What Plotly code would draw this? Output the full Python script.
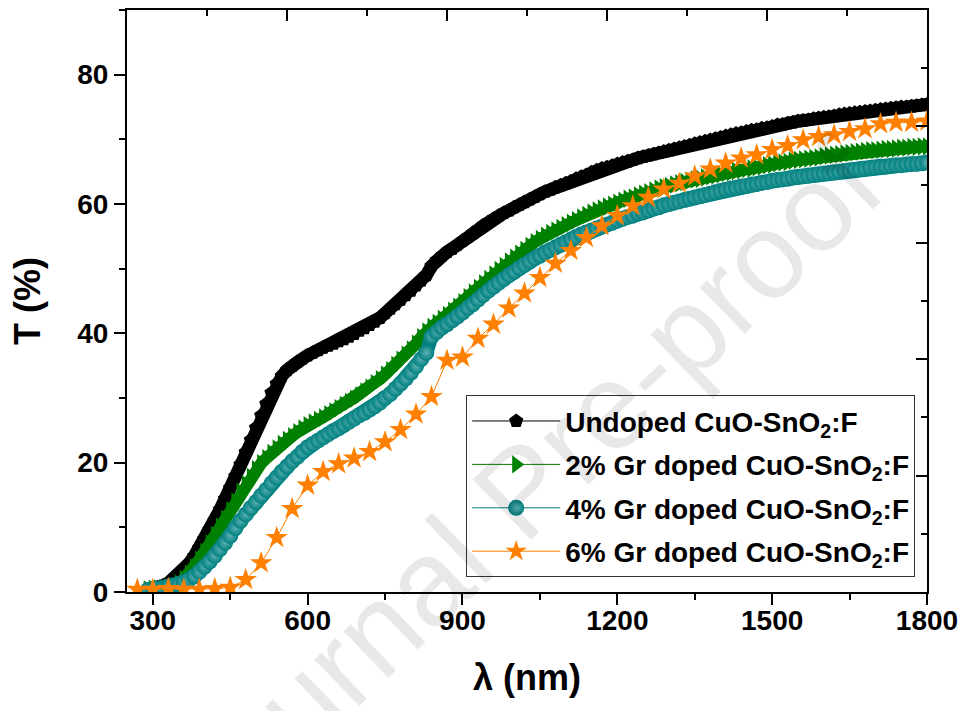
import plotly.graph_objects as go

# ---------------- data ----------------
wl_dense = list(range(290, 1801, 10))

undoped = [0.4, 0.5, 0.7, 1.0, 1.4, 2.0, 2.6, 3.4, 4.4, 5.5, 6.8, 8.2, 9.6, 11.1, 12.7, 14.4, 16.1, 17.9,
           19.7, 21.6, 23.5, 25.4, 27.3, 29.1, 30.8, 32.2, 33.4, 34.3, 35.0, 35.6, 36.1, 36.6, 37.0, 37.4,
           37.8, 38.1, 38.4, 38.8, 39.1, 39.5, 39.9, 40.4, 40.8, 41.3, 41.8, 42.4, 43.1, 43.8, 44.5, 45.2,
           45.9, 46.6, 47.4, 48.2, 49.0, 50.4, 51.3, 52.0, 52.6, 53.1, 53.7, 54.3, 54.9, 55.5, 56.1, 56.7,
           57.2, 57.7, 58.2, 58.6, 59.0, 59.5, 59.9, 60.3, 60.7, 61.1, 61.5, 61.9, 62.2, 62.6, 62.9, 63.2,
           63.5, 63.9, 64.2, 64.5, 64.9, 65.2, 65.5, 65.7, 65.9, 66.2, 66.4, 66.6, 66.8, 67.1, 67.3, 67.5,
           67.7, 67.9, 68.1, 68.3, 68.5, 68.7, 68.9, 69.1, 69.3, 69.5, 69.7, 69.9, 70.1, 70.3, 70.5, 70.7,
           70.9, 71.0, 71.2, 71.4, 71.5, 71.7, 71.8, 72.0, 72.2, 72.3, 72.5, 72.6, 72.8, 72.9, 73.0, 73.2,
           73.3, 73.4, 73.5, 73.6, 73.8, 73.9, 74.0, 74.1, 74.2, 74.3, 74.4, 74.5, 74.6, 74.7, 74.8, 74.9,
           75.0, 75.0, 75.1, 75.2, 75.3, 75.4]

gr2 = [0.4, 0.5, 0.5, 0.6, 0.7, 0.9, 1.3, 2.0, 2.8, 3.8, 5.0, 6.2, 7.5, 8.8, 10.1, 11.3, 12.6, 14.0,
       15.5, 16.7, 17.8, 19.0, 19.9, 20.7, 21.5, 22.2, 22.9, 23.5, 24.1, 24.7, 25.3, 25.8, 26.2, 26.6,
       27.0, 27.5, 27.9, 28.4, 28.9, 29.4, 29.9, 30.4, 31.0, 31.6, 32.3, 32.9, 33.6, 34.3, 35.1, 35.9,
       36.7, 37.5, 38.4, 39.4, 40.3, 41.0, 41.6, 42.2, 42.8, 43.5, 44.1, 44.8, 45.6, 46.3, 47.0, 47.7,
       48.4, 49.1, 49.8, 50.4, 51.1, 51.7, 52.3, 52.9, 53.5, 54.1, 54.6, 55.1, 55.5, 55.9, 56.3, 56.7,
       57.1, 57.5, 57.9, 58.3, 58.7, 59.0, 59.3, 59.6, 59.9, 60.2, 60.5, 60.8, 61.0, 61.3, 61.6, 61.8,
       62.1, 62.4, 62.6, 62.8, 63.0, 63.2, 63.4, 63.6, 63.8, 63.9, 64.1, 64.3, 64.4, 64.6, 64.8, 64.9,
       65.1, 65.2, 65.4, 65.5, 65.7, 65.8, 66.0, 66.1, 66.3, 66.4, 66.5, 66.7, 66.8, 66.9, 67.0, 67.1,
       67.2, 67.4, 67.5, 67.6, 67.7, 67.8, 67.9, 68.0, 68.1, 68.2, 68.3, 68.3, 68.4, 68.5, 68.5, 68.6,
       68.7, 68.7, 68.8, 68.8, 68.9, 68.9]

gr4 = [0.3, 0.4, 0.5, 0.6, 0.8, 1.0, 1.2, 1.5, 1.9, 2.4, 3.1, 3.9, 4.7, 5.6, 6.6, 7.6, 8.7, 9.9,
       11.0, 12.0, 13.0, 13.9, 14.9, 15.8, 16.8, 17.7, 18.6, 19.4, 20.2, 20.9, 21.7, 22.4, 22.9, 23.4,
       23.9, 24.4, 24.9, 25.3, 25.8, 26.3, 26.8, 27.3, 27.7, 28.2, 28.7, 29.3, 30.0, 30.6, 31.4, 32.2,
       33.0, 33.9, 34.9, 36.0, 37.0, 39.5, 40.2, 40.9, 41.4, 42.0, 42.6, 43.2, 43.9, 44.5, 45.2, 45.9,
       46.6, 47.2, 47.8, 48.4, 49.0, 49.5, 50.1, 50.6, 51.1, 51.6, 52.0, 52.5, 52.9, 53.3, 53.7, 54.1,
       54.5, 54.9, 55.3, 55.6, 55.9, 56.2, 56.5, 56.8, 57.1, 57.4, 57.7, 58.0, 58.2, 58.5, 58.7, 59.0,
       59.3, 59.5, 59.8, 60.0, 60.2, 60.4, 60.6, 60.8, 61.0, 61.2, 61.4, 61.6, 61.8, 62.0, 62.2, 62.4,
       62.5, 62.7, 62.8, 63.0, 63.1, 63.3, 63.4, 63.6, 63.7, 63.8, 63.9, 64.1, 64.2, 64.3, 64.4, 64.5,
       64.6, 64.7, 64.8, 64.9, 65.0, 65.1, 65.2, 65.3, 65.4, 65.5, 65.6, 65.7, 65.8, 65.8, 65.9, 66.0,
       66.0, 66.1, 66.2, 66.2, 66.3, 66.4]

wl_star = list(range(270, 1801, 30))
gr6 = [0.4, 0.4, 0.5, 0.4, 0.4, 0.5, 0.7, 1.9, 4.5, 8.4, 12.9, 16.5, 18.6, 19.8, 20.7, 21.7, 23.2,
       25.1, 27.5, 30.2, 35.8, 36.3, 39.2, 41.4, 43.9, 46.2, 48.6, 50.8, 52.8, 54.8, 56.6, 58.2, 59.7,
       61.0, 62.3, 63.2, 64.3, 65.4, 66.3, 67.1, 67.6, 68.4, 69.0, 69.9, 70.4, 70.7, 71.2, 71.6, 72.4,
       72.6, 72.6, 72.8]

names = ["Undoped CuO-SnO<sub>2</sub>:F",
         "2% Gr doped CuO-SnO<sub>2</sub>:F",
         "4% Gr doped CuO-SnO<sub>2</sub>:F",
         "6% Gr doped CuO-SnO<sub>2</sub>:F"]

x_ticks = [300, 600, 900, 1200, 1500, 1800]
y_ticks = [0, 20, 40, 60, 80]

# ---------------- styling ----------------
FONT = "Liberation Sans, Arial, sans-serif"
BLACK = "#000000"
GREEN = "#008000"
TEAL = "#008080"
ORANGE = "#FF8000"

fig = go.Figure()


def dense_series(x, y, name, color, symbol, size, band, group, gradient=None):
    # thick band underneath (the densely packed markers of the original)
    fig.add_trace(go.Scatter(x=x, y=y, mode="lines", line=dict(color=color, width=band),
                             showlegend=False, legendgroup=group, hoverinfo="skip"))
    marker = dict(symbol=symbol, size=size, color=color)
    if gradient:
        marker["gradient"] = dict(type="radial", color=gradient)
    fig.add_trace(go.Scatter(x=x, y=y, name=name, mode="lines+markers",
                             line=dict(color=color, width=1), marker=marker,
                             legendgroup=group))


dense_series(wl_dense, undoped, names[0], BLACK, "pentagon", 15, 13, "a")
dense_series(wl_dense, gr2, names[1], GREEN, "triangle-right", 16, 12, "b")
dense_series(wl_dense, gr4, names[2], TEAL, "circle", 16, 14, "c", gradient="#5cb0b0")
fig.add_trace(go.Scatter(x=wl_star, y=gr6, name=names[3], mode="lines+markers",
                         line=dict(color=ORANGE, width=1),
                         marker=dict(symbol="star", size=17, color=ORANGE),
                         legendgroup="d"))
# empty trace so the top / right frame axes are drawn
fig.add_trace(go.Scatter(x=[], y=[], xaxis="x2", yaxis="y2", showlegend=False, hoverinfo="skip"))

tickfont = dict(family=FONT, size=28, color="black", weight="bold")
titlefont = dict(family=FONT, size=36, color="black", weight="bold")

frame_common = dict(range=[0, 5], dtick=1, tick0=0, ticks="inside", ticklen=11, tickwidth=2,
                    tickcolor="black", showline=True, linecolor="black", linewidth=2,
                    showticklabels=False, showgrid=False, zeroline=False, fixedrange=True,
                    minor=dict(dtick=0.5, ticks="inside", ticklen=6, tickwidth=2, tickcolor="black"))

fig.update_layout(
    width=968, height=711,
    margin=dict(l=127, r=36, t=10, b=119),
    paper_bgcolor="white", plot_bgcolor="white",
    showlegend=True,
    xaxis=dict(range=[250, 1800], tickvals=x_ticks, ticks="outside", ticklen=11, tickwidth=2,
               tickcolor="black", showline=True, linecolor="black", linewidth=2,
               showgrid=False, zeroline=False, tickfont=tickfont, ticklabelstandoff=-9,
               minor=dict(tick0=300, dtick=150, ticks="outside", ticklen=6, tickwidth=2, tickcolor="black"),
               title=dict(text="λ (nm)", font=titlefont, standoff=30)),
    yaxis=dict(range=[0, 90], tickvals=y_ticks, ticks="outside", ticklen=11, tickwidth=2,
               tickcolor="black", showline=True, linecolor="black", linewidth=2,
               showgrid=False, zeroline=False, tickfont=tickfont,
               minor=dict(tick0=0, dtick=10, ticks="outside", ticklen=6, tickwidth=2, tickcolor="black"),
               title=dict(text="T (%)", font=titlefont, standoff=26)),
    xaxis2=dict(overlaying="x", side="top", anchor="y2", **frame_common),
    yaxis2=dict(overlaying="y", side="right", anchor="x2", **frame_common),
    legend=dict(x=0.424, y=0.338, xanchor="left", yanchor="top",
                bgcolor="white", bordercolor="#333333", borderwidth=1,
                font=dict(family=FONT, size=28, color="black", weight="bold"),
                itemwidth=88, tracegroupgap=4, traceorder="grouped"),
    annotations=[dict(text="Journal Pre-proof", xref="paper", yref="paper", x=0.494, y=0.175,
                      xanchor="center", yanchor="middle",
                      showarrow=False, textangle=-44,
                      font=dict(family=FONT, size=122, color="rgba(0,0,0,0.09)"))],
)

fig.write_html("out.html")
